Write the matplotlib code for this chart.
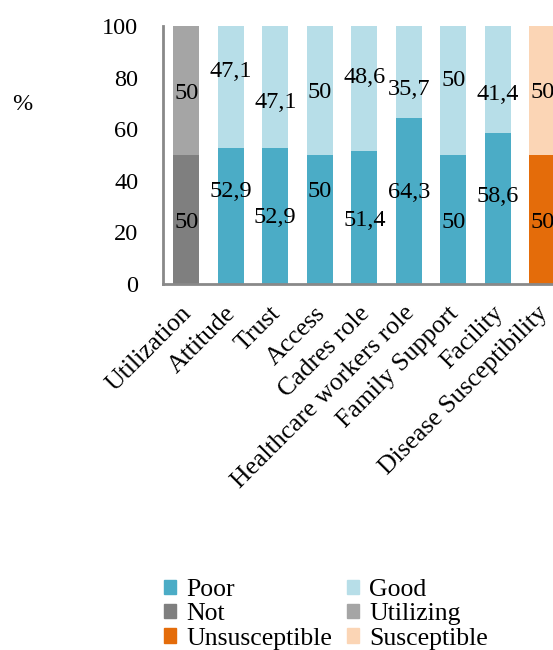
import matplotlib.pyplot as plt
import matplotlib.transforms as mtransforms
import numpy as np
from matplotlib.patches import Patch

categories = ["Utilization", "Attitude", "Trust", "Access", "Cadres role",
              "Healthcare workers role", "Family Support", "Facility",
              "Disease Susceptibility"]
lower_vals = [50, 52.9, 52.9, 50, 51.4, 64.3, 50, 58.6, 50]
upper_vals = [50, 47.1, 47.1, 50, 48.6, 35.7, 50, 41.4, 50]
yticks = [0, 20, 40, 60, 80, 100]

# label heights as placed in the original (value units)
lower_label_y = [24, 35.7, 25.6, 35.7, 24.8, 35.3, 24, 34.1, 24]
upper_label_y = [74, 82.2, 70.2, 74.4, 80.2, 75.2, 79, 73.3, 74.4]

c_poor, c_good = "#4BACC6", "#B7DEE8"
c_not, c_util = "#7F7F7F", "#A5A5A5"
c_unsus, c_sus = "#E46C0A", "#FBD5B5"

lower_colors = [c_not] + [c_poor] * 7 + [c_unsus]
upper_colors = [c_util] + [c_good] * 7 + [c_sus]

plt.rcParams["font.family"] = ["Liberation Serif", "DejaVu Serif"]
fs = 17.5
fs_cat = 18.5

fig = plt.figure(figsize=(5.53, 6.5), dpi=100)
ax = fig.add_axes([0.295, 0.563, 0.726, 0.397])

x = np.arange(len(categories))
ax.bar(x, lower_vals, width=0.58, color=lower_colors)
ax.bar(x, upper_vals, width=0.58, bottom=lower_vals, color=upper_colors)

fmt = lambda v: f"{v:g}".replace(".", ",")
for i in range(len(categories)):
    ax.text(x[i], lower_label_y[i], fmt(lower_vals[i]), ha="center", va="center", fontsize=fs)
    ax.text(x[i], upper_label_y[i], fmt(upper_vals[i]), ha="center", va="center", fontsize=fs)

ax.set_xlim(-0.52, 8.5)
ax.set_ylim(0, 100)
ax.set_yticks(yticks)
ax.set_xticks(x)
ax.set_xticklabels(categories, rotation=45, ha="right", rotation_mode="anchor", fontsize=fs_cat)
ax.tick_params(axis="both", length=0)
ax.tick_params(axis="y", pad=18, labelsize=fs)
ax.tick_params(axis="x", pad=13)
shift = mtransforms.ScaledTranslation(-6 / 100, 0, fig.dpi_scale_trans)
for lab in ax.get_xticklabels():
    lab.set_transform(lab.get_transform() + shift)
for s in ["top", "right"]:
    ax.spines[s].set_visible(False)
for s in ["left", "bottom"]:
    ax.spines[s].set_color("#898989")
    ax.spines[s].set_linewidth(2)

fig.text(0.04, 0.84, "%", fontsize=fs, ha="center", va="center")

handles = [Patch(color=c_poor, label="Poor"), Patch(color=c_not, label="Not"),
           Patch(color=c_unsus, label="Unsusceptible"), Patch(color=c_good, label="Good"),
           Patch(color=c_util, label="Utilizing"), Patch(color=c_sus, label="Susceptible")]
fig.legend(handles=handles, ncol=2, loc="lower left", bbox_to_anchor=(0.255, -0.035),
           frameon=False, fontsize=fs_cat, handlelength=0.48, handleheight=0.48,
           handletextpad=0.4, columnspacing=0.55, labelspacing=0.09)

fig.savefig("out.png", dpi=100)
